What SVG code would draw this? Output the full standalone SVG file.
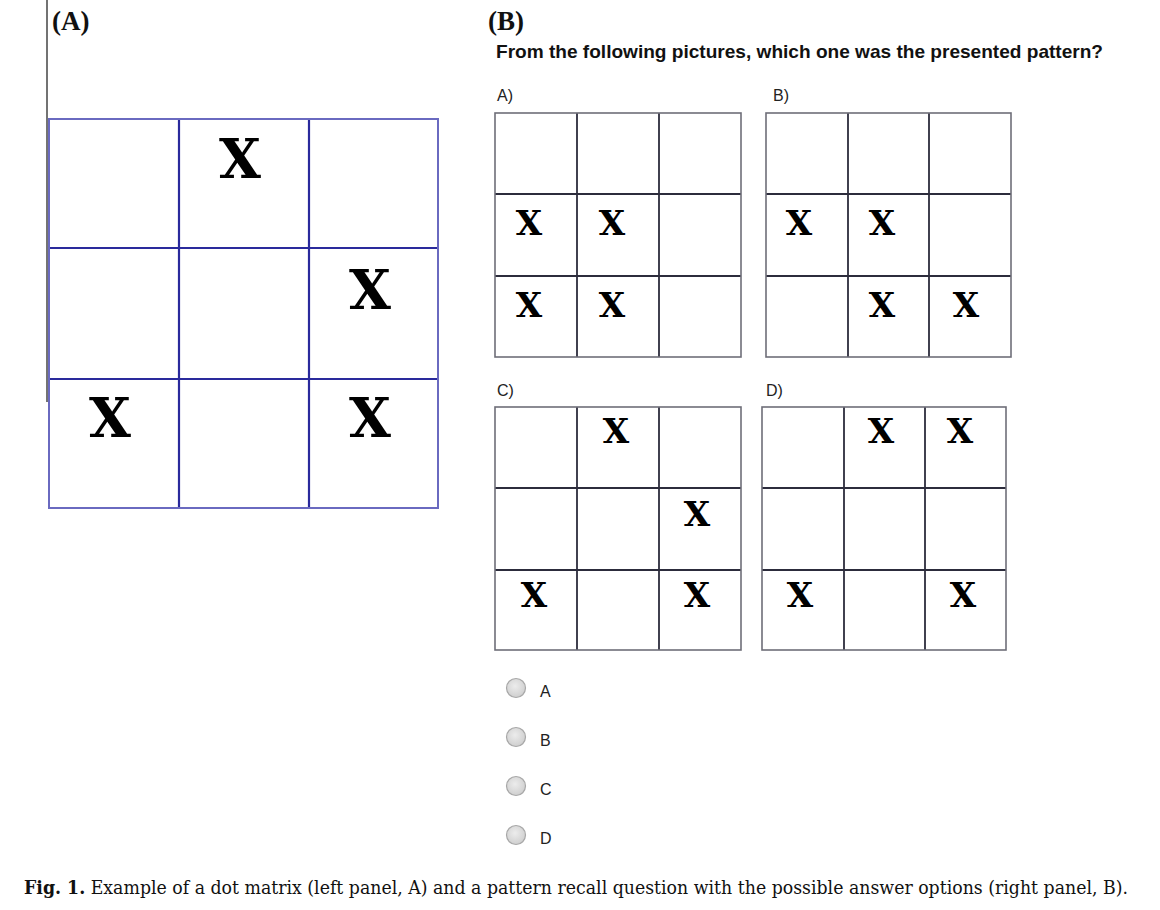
<svg xmlns="http://www.w3.org/2000/svg" width="1160" height="910" viewBox="0 0 1160 910">
<defs>
<style>
.panel{font-family:"Liberation Serif","Times New Roman",serif;font-weight:bold;font-size:27px;fill:#111}
.head{font-family:"Liberation Sans",Arial,sans-serif;font-weight:bold;font-size:19px;fill:#111}
.opt{font-family:"Liberation Sans",Arial,sans-serif;font-size:16px;fill:#222}
.xbig{font-family:"DejaVu Serif","Liberation Serif",serif;font-weight:bold;font-size:54px;fill:#000;text-anchor:middle}
.xs{font-family:"DejaVu Serif","Liberation Serif",serif;font-weight:bold;font-size:34px;fill:#000;text-anchor:middle}
.ga-out{fill:none;stroke:#6a6ac0;stroke-width:2}
.ga-in{stroke:#2a2a9c;stroke-width:2.2}
.gs-out{fill:none;stroke:#6e6e78;stroke-width:1.6}
.gs-in{stroke:#2c2c3c;stroke-width:1.8}
.radio{fill:url(#rg);stroke:#a8a8a8;stroke-width:1.2}
.cap{font-family:"DejaVu Serif Condensed","DejaVu Serif","Liberation Serif",serif;font-stretch:condensed;font-size:18px;fill:#111}
</style>
<radialGradient id="rg" cx="0.45" cy="0.4" r="0.6">
<stop offset="0" stop-color="#ececec"/>
<stop offset="1" stop-color="#cfcfcf"/>
</radialGradient>
</defs>
<rect width="1160" height="910" fill="#fff"/>
<line x1="47" y1="0" x2="47" y2="402" stroke="#444" stroke-width="1.5"/>
<text class="panel" x="52" y="30">(A)</text>
<text class="panel" x="488" y="30">(B)</text>

<g id="gridA">
<line class="ga-in" x1="179" y1="119" x2="179" y2="508"/>
<line class="ga-in" x1="309" y1="119" x2="309" y2="508"/>
<line class="ga-in" x1="49" y1="248" x2="438" y2="248"/>
<line class="ga-in" x1="49" y1="379" x2="438" y2="379"/>
<rect class="ga-out" x="49" y="119" width="389" height="389"/>
<text class="xbig" x="240" y="178">X</text>
<text class="xbig" x="370" y="309">X</text>
<text class="xbig" x="110" y="437">X</text>
<text class="xbig" x="370" y="437">X</text>
</g>

<text class="head" x="496" y="58" textLength="607" lengthAdjust="spacingAndGlyphs">From the following pictures, which one was the presented pattern?</text>

<g id="optA">
<text class="opt" x="497" y="101">A)</text>
<line class="gs-in" x1="577" y1="113" x2="577" y2="357"/>
<line class="gs-in" x1="659" y1="113" x2="659" y2="357"/>
<line class="gs-in" x1="495" y1="194" x2="741" y2="194"/>
<line class="gs-in" x1="495" y1="276" x2="741" y2="276"/>
<rect class="gs-out" x="495" y="113" width="246" height="244"/>
<text class="xs" x="529" y="235">X</text>
<text class="xs" x="612" y="235">X</text>
<text class="xs" x="529" y="317">X</text>
<text class="xs" x="612" y="317">X</text>
</g>

<g id="optB">
<text class="opt" x="773" y="101">B)</text>
<line class="gs-in" x1="848" y1="113" x2="848" y2="357"/>
<line class="gs-in" x1="929" y1="113" x2="929" y2="357"/>
<line class="gs-in" x1="766" y1="194" x2="1011" y2="194"/>
<line class="gs-in" x1="766" y1="276" x2="1011" y2="276"/>
<rect class="gs-out" x="766" y="113" width="245" height="244"/>
<text class="xs" x="799" y="235">X</text>
<text class="xs" x="882" y="235">X</text>
<text class="xs" x="882" y="317">X</text>
<text class="xs" x="966" y="317">X</text>
</g>

<g id="optC">
<text class="opt" x="497" y="396">C)</text>
<line class="gs-in" x1="577" y1="407" x2="577" y2="650"/>
<line class="gs-in" x1="659" y1="407" x2="659" y2="650"/>
<line class="gs-in" x1="495" y1="488" x2="741" y2="488"/>
<line class="gs-in" x1="495" y1="570" x2="741" y2="570"/>
<rect class="gs-out" x="495" y="407" width="246" height="243"/>
<text class="xs" x="616" y="443">X</text>
<text class="xs" x="697" y="526">X</text>
<text class="xs" x="534" y="607">X</text>
<text class="xs" x="697" y="607">X</text>
</g>

<g id="optD">
<text class="opt" x="766" y="396">D)</text>
<line class="gs-in" x1="844" y1="407" x2="844" y2="650"/>
<line class="gs-in" x1="925" y1="407" x2="925" y2="650"/>
<line class="gs-in" x1="762" y1="488" x2="1006" y2="488"/>
<line class="gs-in" x1="762" y1="570" x2="1006" y2="570"/>
<rect class="gs-out" x="762" y="407" width="244" height="243"/>
<text class="xs" x="881" y="443">X</text>
<text class="xs" x="960" y="443">X</text>
<text class="xs" x="800" y="607">X</text>
<text class="xs" x="963" y="607">X</text>
</g>

<g id="radios">
<circle class="radio" cx="516" cy="688" r="9.5"/>
<text class="opt" x="540" y="697">A</text>
<circle class="radio" cx="516" cy="737" r="9.5"/>
<text class="opt" x="540" y="746">B</text>
<circle class="radio" cx="516" cy="786" r="9.5"/>
<text class="opt" x="540" y="795">C</text>
<circle class="radio" cx="516" cy="835" r="9.5"/>
<text class="opt" x="540" y="844">D</text>
</g>

<text class="cap" x="24" y="894" textLength="1104" lengthAdjust="spacingAndGlyphs"><tspan font-weight="bold">Fig. 1.</tspan>  Example of a dot matrix (left panel, A) and a pattern recall question with the possible answer options (right panel, B).</text>
</svg>
